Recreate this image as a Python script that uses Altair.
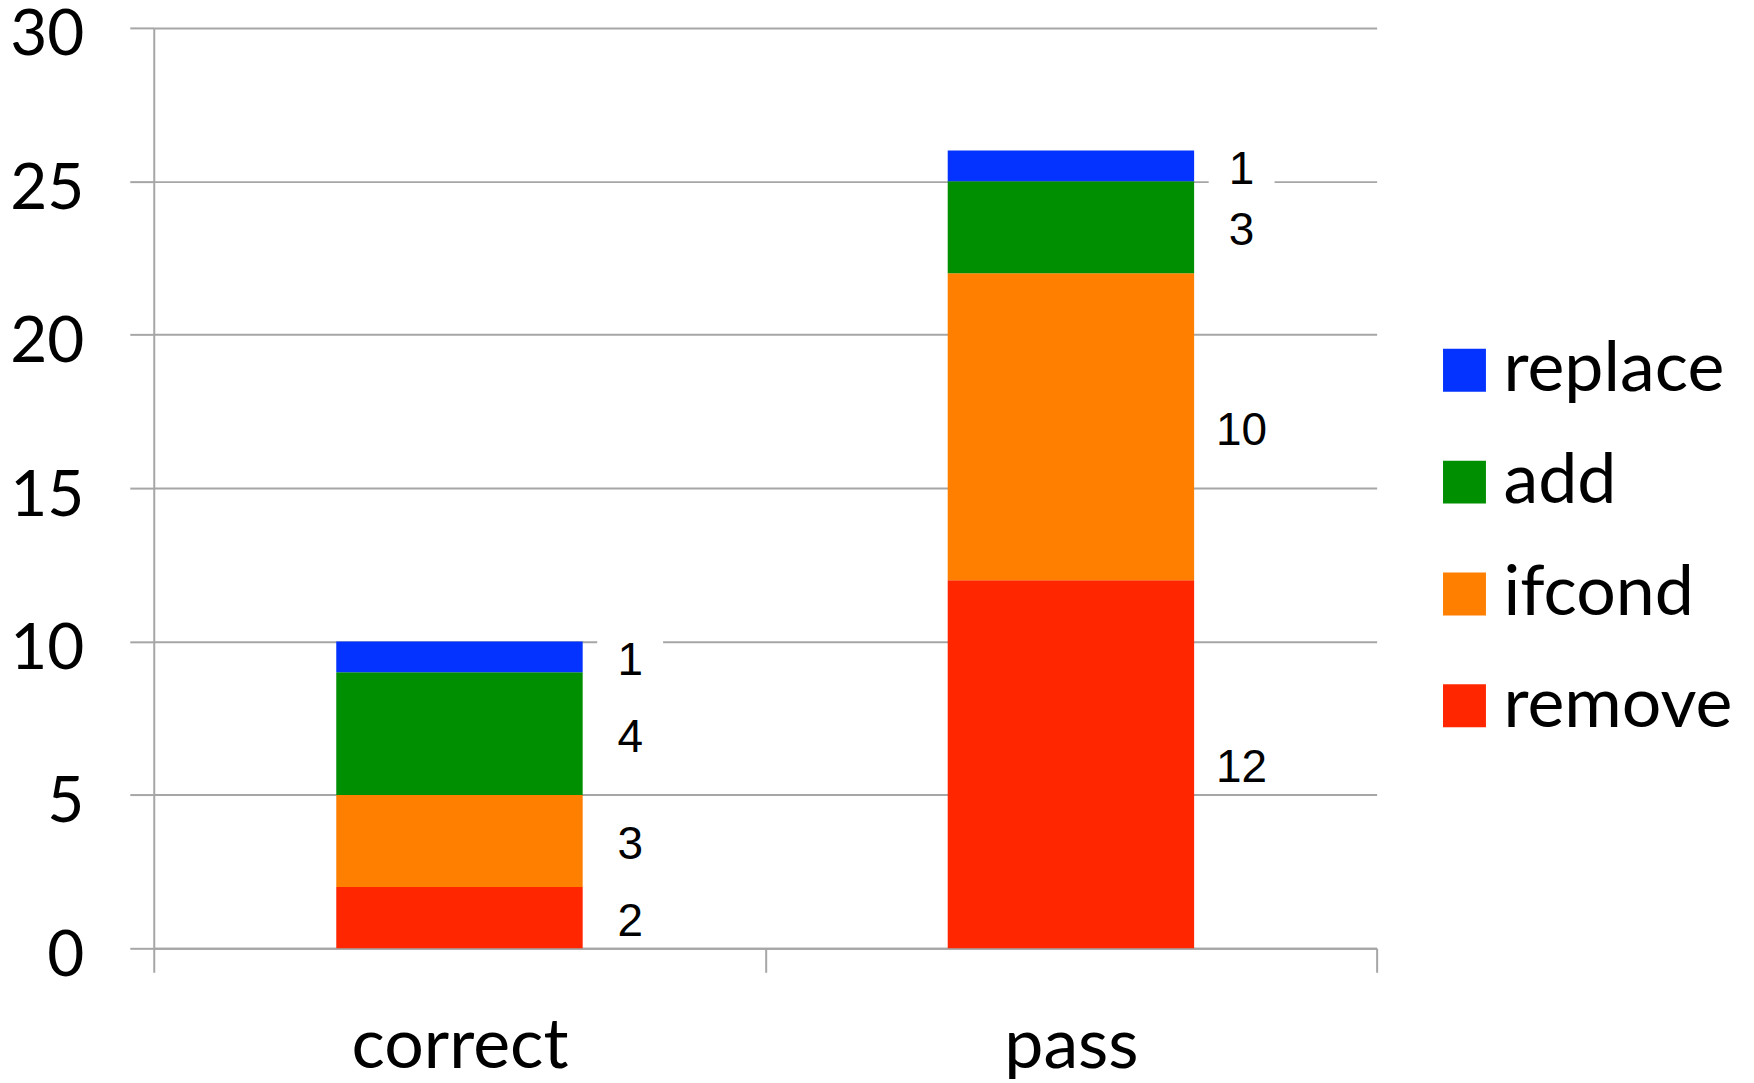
import altair as alt
import pandas as pd

categories = ["correct", "pass"]
types = ["remove", "ifcond", "add", "replace"]
correct_vals = [2, 3, 4, 1]
pass_vals = [12, 10, 3, 1]
legend_order = ["replace", "add", "ifcond", "remove"]
colors = ["#0433FF", "#008F00", "#FF7F00", "#FF2600"]

rows = []
for cat, vals in zip(categories, [correct_vals, pass_vals]):
    for i, (t, v) in enumerate(zip(types, vals)):
        rows.append({"category": cat, "type": t, "count": v, "order": i})
df = pd.DataFrame(rows)

GRID = "#A6A6A6"

x_enc = alt.X(
    "category:N",
    sort=categories,
    scale=alt.Scale(paddingInner=0, paddingOuter=0),
    axis=alt.Axis(
        title=None,
        labelAngle=0,
        tickBand="extent",
        tickSize=24,
        tickColor=GRID,
        tickWidth=2,
        domainColor=GRID,
        domainWidth=2,
        labelFont="Lato",
        labelFontSize=70,
        labelColor="black",
        labelPadding=40,
        labelLimit=0,
    ),
)

bars = alt.Chart(df).mark_bar(width={"band": 0.403}).encode(
    x=x_enc,
    y=alt.Y(
        "count:Q",
        stack="zero",
        scale=alt.Scale(domain=[0, 30]),
        axis=alt.Axis(
            title=None,
            values=[0, 5, 10, 15, 20, 25, 30],
            tickSize=24,
            tickColor=GRID,
            tickWidth=2,
            gridColor=GRID,
            gridWidth=2,
            domainColor=GRID,
            domainWidth=2,
            labelFont="Lato",
            labelFontSize=64,
            labelColor="black",
            labelPadding=46,
            labelOffset=8,
        ),
    ),
    color=alt.Color(
        "type:N",
        scale=alt.Scale(domain=legend_order, range=colors),
        legend=alt.Legend(
            title=None,
            orient="none",
            legendX=1278,
            legendY=308,
            symbolType="square",
            symbolSize=1849,
            symbolStrokeWidth=0,
            symbolOpacity=1,
            labelFont="Lato",
            labelFontSize=70,
            labelColor="black",
            labelOffset=4,
            labelLimit=0,
            rowPadding=42,
        ),
    ),
    order=alt.Order("order:Q"),
)

label_base = (
    alt.Chart(df)
    .transform_stack(
        stack="count",
        as_=["y0", "y1"],
        groupby=["category"],
        sort=[alt.SortField("order")],
    )
    .transform_calculate(mid="(datum.y0 + datum.y1) / 2")
)

label_boxes = label_base.mark_point(
    shape="M-1,-0.7L1,-0.7L1,0.7L-1,0.7Z",
    filled=True,
    color="white",
    opacity=1,
    size=4356,
    strokeWidth=0,
    xOffset=171,
    yOffset=4,
).encode(
    x=alt.X("category:N", sort=categories),
    y=alt.Y("mid:Q"),
)

labels = label_base.mark_text(
    font="Liberation Sans",
    fontSize=46,
    color="black",
    align="center",
    baseline="middle",
    dx=171,
    dy=4,
).encode(
    x=alt.X("category:N", sort=categories),
    y=alt.Y("mid:Q"),
    text=alt.Text("count:Q"),
)

chart = (
    alt.layer(bars, label_boxes, labels)
    .properties(
        width=1225,
        height=922,
        autosize=alt.AutoSizeParams(type="none"),
        padding={"left": 146, "top": 19, "right": 370, "bottom": 130},
        background="white",
    )
    .configure_view(stroke=None)
)

chart.save("out.html", embed_options={"renderer": "svg", "actions": False})
